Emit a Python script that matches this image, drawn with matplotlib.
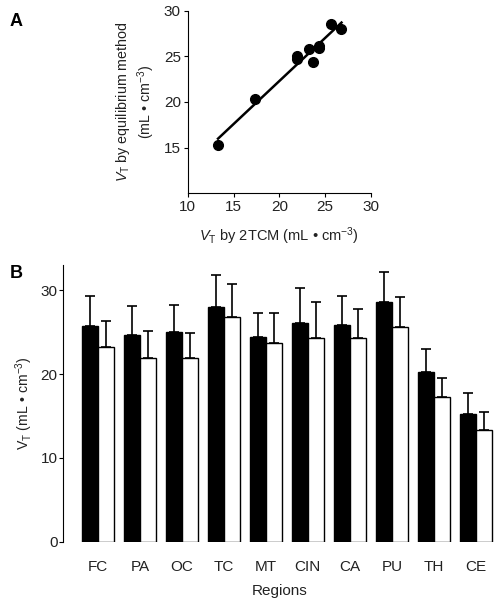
import matplotlib.pyplot as plt
import numpy as np

plt.rcParams['font.family'] = ['Liberation Sans', 'DejaVu Sans']
plt.rcParams['mathtext.fontset'] = 'custom'
plt.rcParams['mathtext.rm'] = 'Liberation Sans'
plt.rcParams['mathtext.it'] = 'Liberation Sans:italic'

# regions, equilibrium method (black) and 2TCM (white), mean and SD
regions = ['FC', 'PA', 'OC', 'TC', 'MT', 'CIN', 'CA', 'PU', 'TH', 'CE']
vt_eq = [25.8, 24.7, 25.0, 28.0, 24.4, 26.1, 25.9, 28.6, 20.3, 15.3]
sd_eq = [3.5, 3.4, 3.3, 3.8, 2.9, 4.2, 3.4, 3.6, 2.7, 2.4]
vt_2tcm = [23.3, 21.9, 21.9, 26.8, 23.7, 24.3, 24.3, 25.6, 17.3, 13.3]
sd_2tcm = [3.1, 3.2, 3.0, 4.0, 3.6, 4.3, 3.5, 3.6, 2.3, 2.2]

txt = '#222222'
fig = plt.figure(figsize=(4.97, 6), dpi=100)

# A: scatter
axA = fig.add_axes([0.378, 0.678, 0.368, 0.304])
axA.plot(vt_2tcm, vt_eq, 'o', color='black', markersize=7)
k, b = np.polyfit(vt_2tcm, vt_eq, 1)
xs = np.array([min(vt_2tcm), max(vt_2tcm)])
axA.plot(xs, k * xs + b, color='black', linewidth=1.8)
axA.set_xlim(10, 30)
axA.set_ylim(10, 30)
axA.set_xticks([10, 15, 20, 25, 30])
axA.set_yticks([15, 20, 25, 30])
axA.spines['top'].set_visible(False)
axA.spines['right'].set_visible(False)
axA.tick_params(direction='out', length=3, width=0.8, labelsize=11, pad=2, labelcolor=txt)
axA.set_xlabel(r'$V_\mathrm{T}$ by 2TCM (mL • cm$^{-3}$)', fontsize=10.5, color=txt, labelpad=8)
axA.set_ylabel('$V_\\mathrm{T}$ by equilibrium method\n(mL • cm$^{-3}$)', fontsize=10.3, color=txt, labelpad=5)
fig.text(0.02, 0.965, 'A', fontsize=13, fontweight='bold', va='center')

# B: bars
axB = fig.add_axes([0.127, 0.097, 0.87, 0.461])
x = np.arange(len(regions))
w = 0.38
axB.bar(x - w / 2, vt_eq, w, color='black', edgecolor='black', linewidth=1)
axB.bar(x + w / 2, vt_2tcm, w, color='white', edgecolor='black', linewidth=1)
axB.errorbar(x - w / 2, vt_eq, yerr=[np.zeros(len(x)), sd_eq], fmt='none',
             ecolor='black', elinewidth=1.2, capsize=3.5, capthick=1.2)
axB.errorbar(x + w / 2, vt_2tcm, yerr=[np.zeros(len(x)), sd_2tcm], fmt='none',
             ecolor='black', elinewidth=1.2, capsize=3.5, capthick=1.2)
axB.set_xlim(-0.83, 9.47)
axB.set_ylim(0, 33)
axB.set_yticks([0, 10, 20, 30])
axB.set_xticks(x)
axB.set_xticklabels(regions)
for s in ['top', 'right', 'bottom']:
    axB.spines[s].set_visible(False)
axB.tick_params(axis='x', length=0, labelsize=11, pad=13, labelcolor=txt)
axB.tick_params(axis='y', direction='out', length=3, width=0.8, labelsize=11, pad=1, labelcolor=txt)
axB.set_xlabel('Regions', fontsize=11, color=txt, labelpad=7)
axB.set_ylabel(r'V$_\mathrm{T}$ (mL • cm$^{-3}$)', fontsize=10.2, color=txt, labelpad=4)
fig.text(0.02, 0.545, 'B', fontsize=13, fontweight='bold', va='center')

fig.savefig('out.png', dpi=100)
